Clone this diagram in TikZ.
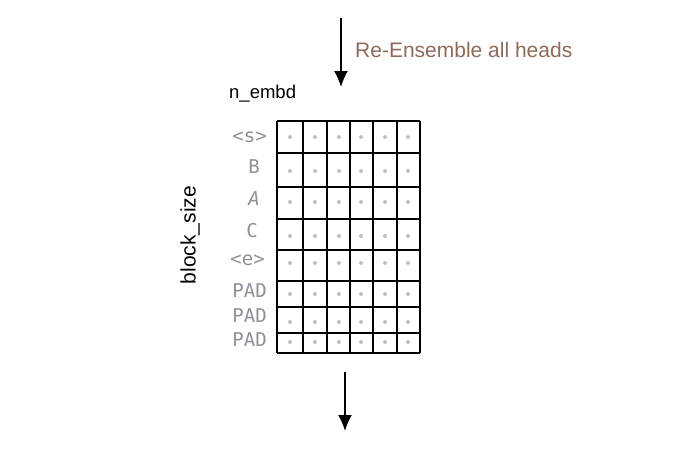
\documentclass[tikz,border=0pt]{standalone}
\usepackage{fontspec}
\setmainfont{Liberation Sans}
\newfontfamily\codefont{DejaVu Sans Mono}
\usetikzlibrary{arrows.meta}
\definecolor{brownish}{HTML}{8F6A5A}
\definecolor{labelgray}{HTML}{8C9099}
\definecolor{dotgray}{HTML}{BDBFC4}
\begin{document}
\begin{tikzpicture}[x=1pt,y=-1pt,
  flowarrow/.style={line width=1.6pt,-{Latex[length=16pt,width=14pt]}},
  gridline/.style={line width=1.6pt,black},
  toklabel/.style={anchor=east,text=labelgray,font=\codefont\fontsize{19}{19}\selectfont,inner sep=0pt},
  handtext/.style={inner sep=0pt},
  celldot/.style={circle,fill=dotgray,inner sep=0pt,minimum size=4pt}]
\useasboundingbox (0,0) rectangle (697,453);
% arrows
\coordinate (topS) at (341,18);
\coordinate (topE) at (341,87);
\coordinate (botS) at (345,372);
\coordinate (botE) at (345,431);
\draw[flowarrow] (topS) -- (topE);
\draw[flowarrow] (botS) -- (botE);
\node[handtext,anchor=west,text=brownish,font=\fontsize{21}{21}\selectfont] (ens) at (355,50) {Re-Ensemble all heads};
\node[handtext,anchor=west,font=\fontsize{18.5}{18.5}\selectfont] (embd) at (229,94) {n\_embd};
\node[handtext,rotate=90,font=\fontsize{21}{21}\selectfont] (bsz) at (190,235) {block\_size};
% grid
\def\xs{277,303,327,350,373,397,420}
\def\ys{121,153,187,219,250,281,307,333,353}
\foreach \x in \xs {\draw[gridline] (\x,121) -- (\x,353);}
\foreach \y in \ys {\draw[gridline] (277,\y) -- (420,\y);}
\node[draw=none,inner sep=0pt,minimum width=143pt,minimum height=232pt,anchor=north west] (grid) at (277,121) {};
% dots
\foreach \y [count=\r] in {137,169,203,235,265,294,320,343} {
  \foreach \x [count=\c] in {290,315,339,361,385,408} {
    \pgfmathsetmacro{\jy}{mod(\r*7+\c*5,5)-2}
    \node[celldot] (dot\r-\c) at (\x,\y+\jy) {};
  }
}
% labels
\node[toklabel] (l1) at (267,137) {<s>};
\node[toklabel] (l2) at (260,167) {B};
\node[toklabel] (l3) at (260,199) {\itshape A};
\node[toklabel] (l4) at (258,231) {C};
\node[toklabel] (l5) at (265,260) {<e>};
\node[toklabel] (l6) at (267,291) {PAD};
\node[toklabel] (l7) at (267,316) {PAD};
\node[toklabel] (l8) at (267,340) {PAD};
\end{tikzpicture}
\end{document}
